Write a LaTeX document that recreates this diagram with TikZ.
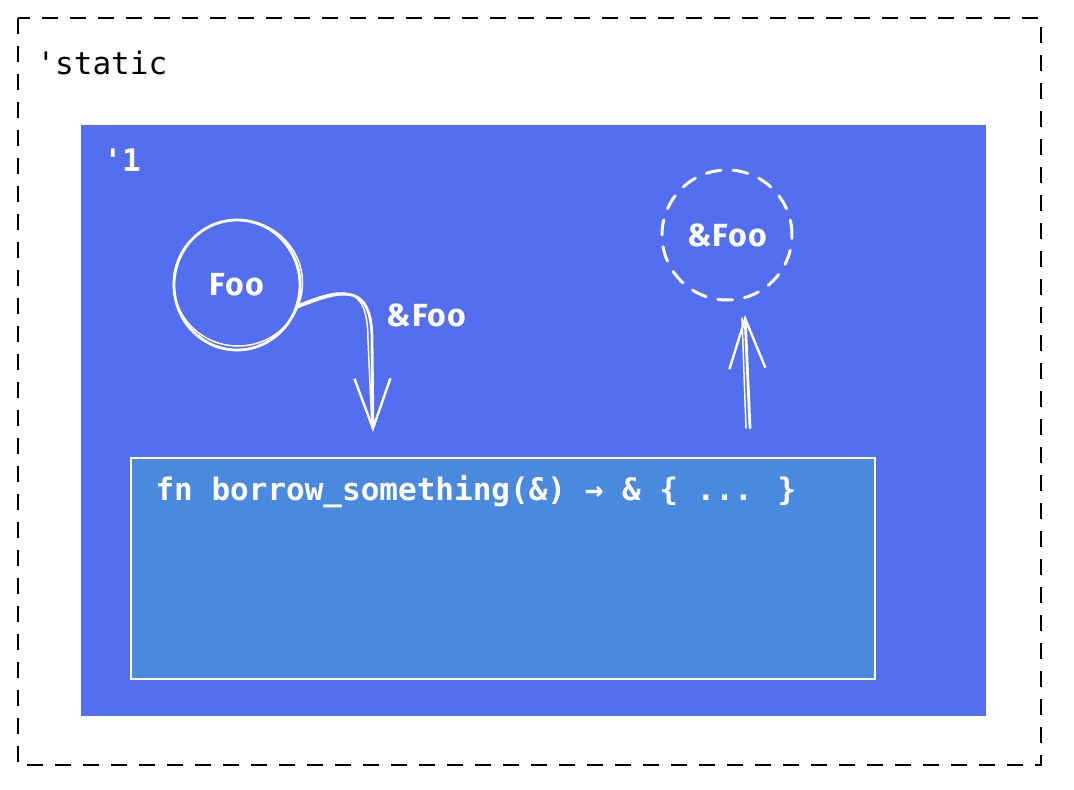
\documentclass[tikz,border=0pt]{standalone}
\usepackage{fontspec}
\setmainfont{Fira Sans}
\newfontfamily\codefont{DejaVu Sans Mono}
\usetikzlibrary{arrows.meta}
\definecolor{regionblue}{RGB}{83,110,238}
\definecolor{boxblue}{RGB}{73,137,222}
\tikzset{
  sketch/.style={draw=white, line width=2.8pt, line cap=round, line join=round},
  thin sketch/.style={draw=white, line width=1.5pt, line cap=round},
  vtip/.style={-{Straight Barb[length=50pt,width=36pt,line width=2.4pt]}},
  lbl/.style={text=white, font=\bfseries\fontsize{32}{34}\selectfont\addfontfeature{LetterSpace=4}},
  code/.style={font=\codefont\fontsize{31}{33}\selectfont},
}
\begin{document}
\begin{tikzpicture}[x=1pt,y=-1pt]
\useasboundingbox (0,0) rectangle (1074,790);
% outer static region
\draw[black, line width=2.8pt, dash pattern=on 16pt off 12pt] (18,18) rectangle (1041,765);
\node[code, anchor=west, text=black] (static) at (33,63) {'static};
% lifetime '1 region
\fill[regionblue] (81,125) rectangle (986,716);
\node[code, anchor=west, text=white, font=\codefont\bfseries\fontsize{31}{33}\selectfont] (one) at (100,160) {'1};
% Foo circle
\node[circle, minimum size=126pt, inner sep=0pt, lbl] (foo) at (237,285) {Foo};
\draw[sketch] (237,285) circle[x radius=63, y radius=65];
\draw[thin sketch] (238,283) circle[x radius=64.5, y radius=63];
% borrowed reference (dashed)
\node[circle, minimum size=130pt, inner sep=0pt, lbl, draw=white, line width=3pt, line cap=round, dash pattern=on 15pt off 12pt] (ref) at (727,235) {\&Foo};
% function box
\node[draw=white, line width=2.2pt, fill=boxblue, minimum width=744pt, minimum height=221pt, anchor=north west] (fn) at (130,457) {};
\node[code, text=white, font=\codefont\bfseries\fontsize{31}{33}\selectfont, anchor=west] (sig) at ([xshift=22pt,yshift=-35pt]fn.north west) {fn borrow\_something(\&) → \& \{ ... \}};
% arrow from Foo into the function
\coordinate (a1end) at (373,432);
\draw[sketch, vtip] (foo.-21) .. controls (340,290) and (372,280) .. (372,340) -- (a1end);
\draw[thin sketch] (foo.-19) .. controls (342,287) and (368,282) .. (368,340) -- (372,428);
\node[lbl, anchor=west] (amp) at (383,315) {\&Foo};
% arrow from function back to reference
\coordinate (a2start) at (750,428);
\coordinate (a2end) at (745,315);
\draw[sketch, vtip] (a2start) -- (a2end);
\draw[thin sketch] (746,428) -- (742,318);
\end{tikzpicture}
\end{document}
